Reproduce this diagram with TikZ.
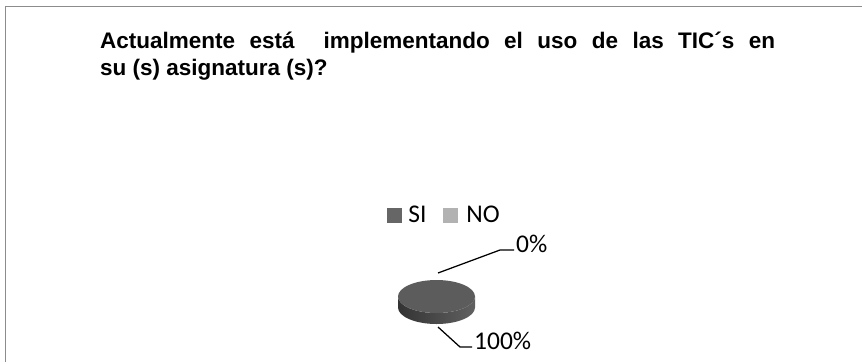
\documentclass[tikz,border=0pt]{standalone}
\usepackage{fontspec}
\setmainfont{Liberation Sans}
\newfontfamily\legendfont{Carlito}
\usetikzlibrary{positioning}

\begin{document}
\begin{tikzpicture}[x=1pt,y=1pt]
  \useasboundingbox (0,0) rectangle (862,-362);
  \tikzset{
    frameLine/.style={draw=black!45,line width=1.5pt},
    titleText/.style={inner sep=0pt,anchor=base west,font=\fontsize{22.5}{27}\selectfont\bfseries},
    legendKey/.style={rectangle,minimum size=15pt,inner sep=0pt},
    legendText/.style={inner sep=0pt,anchor=base west,font=\legendfont\fontsize{25.5}{30}\selectfont},
    % slice label styles
    sliceLabel/.style={inner sep=2pt,anchor=base west,font=\legendfont\fontsize{25.5}{30}\selectfont},
    leader/.style={draw=black,line width=1.25pt},
    pieTop/.style={fill=black!64},
    pieSide/.style={left color=black!80,right color=black!62}
  }

  %% Frame
  \draw [frameLine] (5.5,-362) -- (5.5,-6.5) -- (862,-6.5);

  %% Title
  \node [titleText] (title1) at (100,-48.6)
  {\makebox[675pt][s]{Actualmente está\ \ implementando el uso de las TIC´s en}};
  \node [titleText, below=27pt of title1.base west, anchor=base west] (title2) {su (s) asignatura (s)?};

  %% Legend
  \node [legendKey, fill=black!60] (keySI) at (394.5,-215) {};
  \node [legendText, right=6pt of keySI.south east, anchor=base west] (txtSI) {SI};
  \node [legendKey, fill=black!30, right=16pt of txtSI.base east, anchor=south west] (keyNO) {};
  \node [legendText, right=8pt of keyNO.south east, anchor=base west] (txtNO) {NO};

  %% Pie (one full slice)
  \coordinate (pieC) at (436.5,-296.5);
  \shade [pieSide] (398,-296.5) -- (398,-307.5) arc (180:360:38.5 and 16.5)
    -- (475,-296.5) arc (0:-180:38.5 and 16.5) -- cycle;
  \fill [pieTop] (pieC) ellipse (38.5 and 16.5);

  %% Slice labels
  \coordinate (zeroTip) at (438,-273);
  \coordinate (zeroBend) at (500,-250);
  \node [sliceLabel] (zeroLbl) at (514,-252) {0\%};
  \draw [leader] (zeroTip) -- (zeroBend) -- ([yshift=2pt]zeroLbl.base west);

  \coordinate (hundTip) at (438,-327);
  \coordinate (hundBend) at (460,-347);
  \node [sliceLabel] (hundLbl) at (472,-349) {100\%};
  \draw [leader] (hundTip) -- (hundBend) -- ([yshift=2pt]hundLbl.base west);
\end{tikzpicture}
\end{document}
